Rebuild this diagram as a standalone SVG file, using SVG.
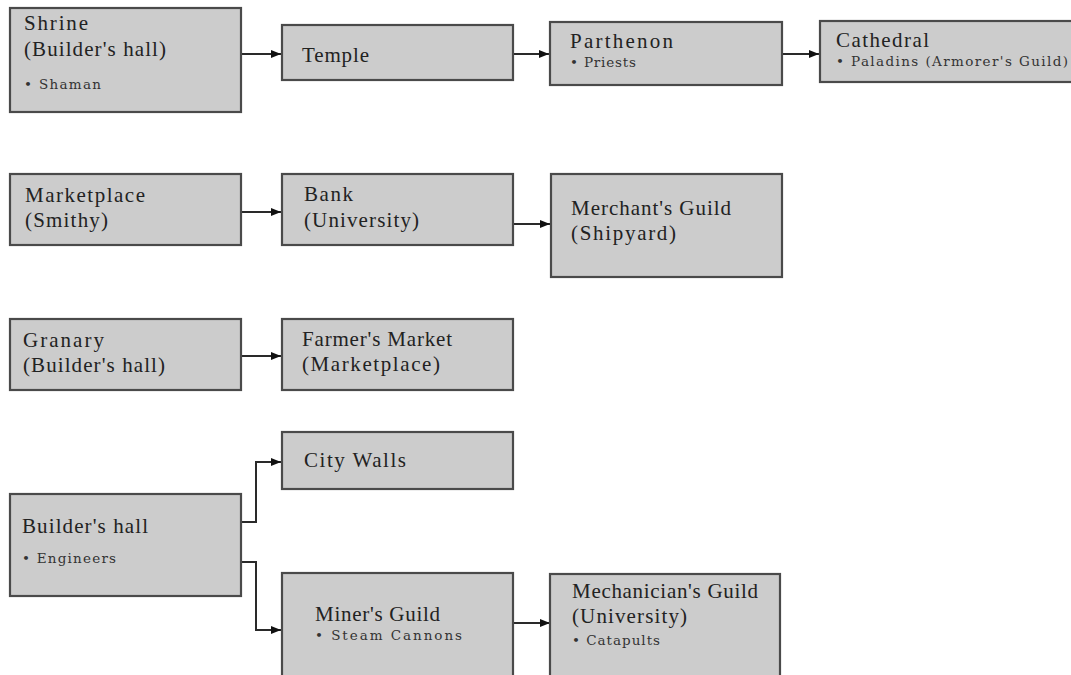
<svg xmlns="http://www.w3.org/2000/svg" width="1071" height="675" viewBox="0 0 1071 675">
<style>
.box{fill:#cccccc;stroke:#4a4a4a;stroke-width:2.2}
.t{font-family:"Liberation Serif",serif;font-size:21px;fill:#222}
.s{font-family:"DejaVu Serif",serif;font-size:13.5px;fill:#333}
.c{fill:none;stroke:#2a2a2a;stroke-width:2}
</style>
<defs>
<marker id="ah" markerWidth="10" markerHeight="8" refX="10" refY="4" orient="auto" markerUnits="userSpaceOnUse">
<path d="M0,0 L10,4 L0,8 Z" fill="#111"/>
</marker>
</defs>
<rect width="1071" height="675" fill="#ffffff"/>
<g id="connectors">
<path class="c" d="M241,54 H281" marker-end="url(#ah)"/>
<path class="c" d="M513,54 H549" marker-end="url(#ah)"/>
<path class="c" d="M782,54 H819" marker-end="url(#ah)"/>
<path class="c" d="M241,212 H281" marker-end="url(#ah)"/>
<path class="c" d="M513,224 H550" marker-end="url(#ah)"/>
<path class="c" d="M241,356 H281" marker-end="url(#ah)"/>
<path class="c" d="M241,522 H256 V462 H281" marker-end="url(#ah)"/>
<path class="c" d="M241,562 H256 V630 H281" marker-end="url(#ah)"/>
<path class="c" d="M513,623 H550" marker-end="url(#ah)"/>
</g>
<g id="shrine">
<rect class="box" x="10" y="8" width="231" height="104"/>
<text class="t" x="24" y="30" textLength="64" lengthAdjust="spacing">Shrine</text>
<text class="t" x="24" y="56" textLength="142" lengthAdjust="spacing">(Builder's hall)</text>
<text class="s" x="24" y="89" textLength="77" lengthAdjust="spacing">• Shaman</text>
</g>
<g id="temple">
<rect class="box" x="282" y="25" width="231" height="55"/>
<text class="t" x="302" y="62" textLength="67" lengthAdjust="spacing">Temple</text>
</g>
<g id="parthenon">
<rect class="box" x="550" y="22" width="232" height="63"/>
<text class="t" x="570" y="48" textLength="103" lengthAdjust="spacing">Parthenon</text>
<text class="s" x="570" y="67" textLength="66" lengthAdjust="spacing">• Priests</text>
</g>
<g id="cathedral">
<rect class="box" x="820" y="21" width="260" height="61"/>
<text class="t" x="836" y="47" textLength="93" lengthAdjust="spacing">Cathedral</text>
<text class="s" x="836" y="66" textLength="232" lengthAdjust="spacing">• Paladins (Armorer's Guild)</text>
</g>
<g id="marketplace">
<rect class="box" x="10" y="174" width="231" height="71"/>
<text class="t" x="25" y="202" textLength="120" lengthAdjust="spacing">Marketplace</text>
<text class="t" x="25" y="227" textLength="83" lengthAdjust="spacing">(Smithy)</text>
</g>
<g id="bank">
<rect class="box" x="282" y="174" width="231" height="71"/>
<text class="t" x="304" y="201" textLength="49" lengthAdjust="spacing">Bank</text>
<text class="t" x="304" y="227" textLength="115" lengthAdjust="spacing">(University)</text>
</g>
<g id="merchants-guild">
<rect class="box" x="551" y="174" width="231" height="103"/>
<text class="t" x="571" y="215" textLength="160" lengthAdjust="spacing">Merchant's Guild</text>
<text class="t" x="571" y="240" textLength="105" lengthAdjust="spacing">(Shipyard)</text>
</g>
<g id="granary">
<rect class="box" x="10" y="319" width="231" height="71"/>
<text class="t" x="23" y="347" textLength="81" lengthAdjust="spacing">Granary</text>
<text class="t" x="23" y="372" textLength="142" lengthAdjust="spacing">(Builder's hall)</text>
</g>
<g id="farmers-market">
<rect class="box" x="282" y="319" width="231" height="71"/>
<text class="t" x="302" y="346" textLength="150" lengthAdjust="spacing">Farmer's Market</text>
<text class="t" x="302" y="371" textLength="138" lengthAdjust="spacing">(Marketplace)</text>
</g>
<g id="city-walls">
<rect class="box" x="282" y="432" width="231" height="57"/>
<text class="t" x="304" y="467" textLength="102" lengthAdjust="spacing">City Walls</text>
</g>
<g id="builders-hall">
<rect class="box" x="10" y="494" width="231" height="102"/>
<text class="t" x="22" y="533" textLength="126" lengthAdjust="spacing">Builder's hall</text>
<text class="s" x="22" y="563" textLength="94" lengthAdjust="spacing">• Engineers</text>
</g>
<g id="miners-guild">
<rect class="box" x="282" y="573" width="231" height="110"/>
<text class="t" x="315" y="621" textLength="125" lengthAdjust="spacing">Miner's Guild</text>
<text class="s" x="315" y="640" textLength="147" lengthAdjust="spacing">• Steam Cannons</text>
</g>
<g id="mechanicians-guild">
<rect class="box" x="550" y="574" width="230" height="110"/>
<text class="t" x="572" y="598" textLength="186" lengthAdjust="spacing">Mechanician's Guild</text>
<text class="t" x="572" y="623" textLength="115" lengthAdjust="spacing">(University)</text>
<text class="s" x="572" y="645" textLength="88" lengthAdjust="spacing">• Catapults</text>
</g>
</svg>
